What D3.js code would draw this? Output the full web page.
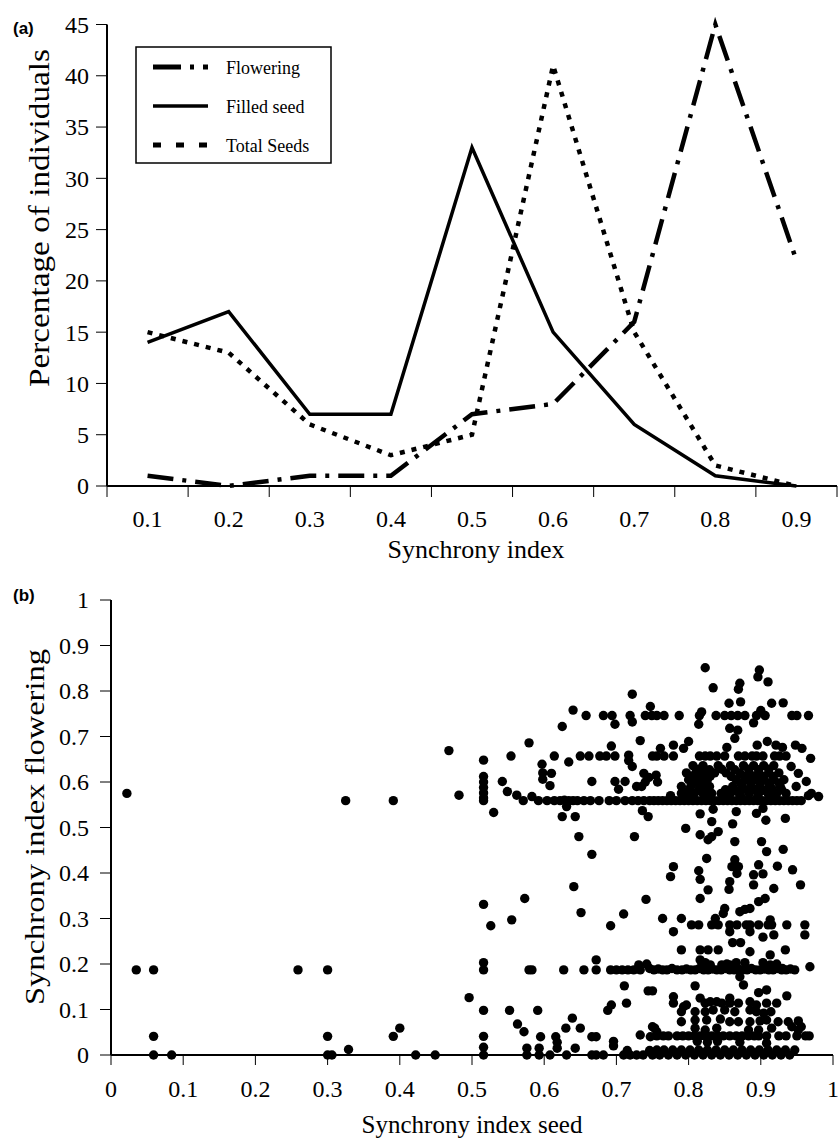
<!DOCTYPE html>
<html>
<head>
<meta charset="utf-8">
<script src="https://cdn.jsdelivr.net/npm/d3@7"></script>
<style>
  body { margin: 0; background: #fff; }
  svg { display: block; }
</style>
</head>
<body>
<svg id="chart" width="838" height="1139"></svg>
<script>
// ---- panel (a) data ----
const synchCats = ["0.1", "0.2", "0.3", "0.4", "0.5", "0.6", "0.7", "0.8", "0.9"]
const flowering = [1, 0, 1, 1, 7, 8, 16, 45, 22]
const filledSeed = [14, 17, 7, 7, 33, 15, 6, 1, 0]
const totalSeeds = [15, 13, 6, 3, 5, 41, 15, 2, 0]
const pctTicks = [0, 5, 10, 15, 20, 25, 30, 35, 40, 45]

// ---- panel (b) data: [synchrony seed, synchrony flowering] ----
const sparsePts = [
  [0.022,0.575],[0.035,0.187],[0.059,0.187],[0.059,0.041],[0.059,0],[0.084,0],
  [0.259,0.187],[0.300,0.187],[0.300,0.041],[0.300,0],[0.306,0],[0.329,0.012],
  [0.391,0.041],[0.400,0.059],[0.422,0],[0.449,0],[0.496,0.126],
  [0.325,0.559],[0.391,0.559],[0.468,0.669],[0.482,0.571],
  [0.516,0.648],[0.516,0.612],[0.516,0.600],[0.516,0.588],[0.516,0.576],[0.516,0.565],[0.516,0.331],
  [0.516,0.203],[0.516,0.187],[0.516,0.098],[0.516,0.041],[0.516,0.017],[0.516,0],
  [0.526,0.284],[0.530,0.533]
]
const upperPts = [
  [0.542,0.601],[0.549,0.579],[0.554,0.657],[0.562,0.571],[0.579,0.686],[0.597,0.639],[0.598,0.620],
  [0.598,0.606],[0.610,0.619],[0.608,0.592],[0.614,0.657],[0.625,0.722],[0.634,0.644],[0.640,0.758],
  [0.658,0.746],[0.682,0.746],[0.694,0.746],[0.698,0.727],[0.719,0.746],[0.722,0.732],[0.722,0.793],
  [0.740,0.746],[0.747,0.766],[0.650,0.657],[0.662,0.657],[0.677,0.657],[0.686,0.657],[0.698,0.657],
  [0.693,0.679],[0.717,0.659],[0.717,0.647],[0.722,0.634],[0.733,0.691],[0.738,0.619],[0.750,0.657],
  [0.666,0.601],[0.698,0.601],[0.703,0.584],[0.712,0.601],[0.728,0.590],[0.735,0.590],[0.740,0.600],
  [0.745,0.610],[0.631,0.546],[0.625,0.524],[0.643,0.524],[0.736,0.537],[0.744,0.524],[0.648,0.480],
  [0.725,0.480],[0.666,0.441],
  [0.823,0.851],[0.898,0.846],[0.896,0.831],[0.910,0.820],[0.834,0.807],[0.871,0.817],[0.869,0.804],
  [0.856,0.773],[0.872,0.776],[0.915,0.773],[0.931,0.774],
  [0.749,0.746],[0.756,0.746],[0.766,0.746],[0.787,0.746],[0.815,0.746],[0.838,0.746],[0.850,0.746],
  [0.859,0.746],[0.868,0.746],[0.878,0.746],[0.894,0.746],[0.906,0.746],[0.943,0.746],[0.950,0.746],
  [0.966,0.746],[0.818,0.754],[0.814,0.727],[0.890,0.730],[0.900,0.757],[0.857,0.718],[0.868,0.714],
  [0.864,0.696],[0.761,0.674],[0.779,0.681],[0.793,0.674],[0.800,0.689],[0.779,0.657],[0.853,0.676],
  [0.895,0.681],[0.909,0.689],[0.921,0.681],[0.930,0.676],[0.948,0.681],[0.957,0.674],[0.969,0.652],
  [0.942,0.634],[0.755,0.615],[0.757,0.600],[0.952,0.619],[0.963,0.601],[0.949,0.590],[0.970,0.575],
  [0.980,0.568],[0.966,0.570],[0.775,0.570],[0.790,0.575],
  [0.756,0.657],[0.766,0.657],[0.815,0.657],[0.823,0.657],[0.830,0.657],[0.839,0.657],[0.850,0.657],
  [0.869,0.657],[0.878,0.657],[0.888,0.657],[0.894,0.657],[0.903,0.657],[0.919,0.657],[0.926,0.657],
  [0.935,0.657]
]
// dense block just above the 0.56 row
const clusterPts = [
  [0.795,0.575],[0.808,0.575],[0.820,0.575],[0.832,0.575],[0.845,0.575],[0.858,0.575],[0.870,0.575],
  [0.884,0.575],[0.897,0.575],[0.910,0.575],[0.922,0.575],[0.935,0.575],
  [0.801,0.583],[0.814,0.582],[0.826,0.584],[0.851,0.583],[0.864,0.582],[0.877,0.584],[0.891,0.583],
  [0.904,0.582],[0.916,0.584],[0.929,0.583],
  [0.790,0.590],[0.803,0.590],[0.816,0.590],[0.829,0.590],[0.861,0.590],[0.874,0.590],[0.887,0.590],
  [0.899,0.590],[0.913,0.590],[0.927,0.590],
  [0.806,0.598],[0.820,0.597],[0.872,0.598],[0.886,0.597],[0.899,0.598],[0.911,0.597],[0.925,0.598],
  [0.800,0.605],[0.812,0.605],[0.826,0.605],[0.866,0.605],[0.880,0.605],[0.893,0.605],[0.905,0.605],
  [0.918,0.605],[0.932,0.605],
  [0.804,0.613],[0.817,0.612],[0.830,0.613],[0.859,0.612],[0.877,0.613],[0.890,0.612],[0.903,0.613],
  [0.917,0.612],
  [0.797,0.620],[0.810,0.620],[0.822,0.620],[0.836,0.620],[0.852,0.620],[0.871,0.620],[0.884,0.620],
  [0.897,0.620],[0.911,0.620],[0.925,0.620],
  [0.814,0.628],[0.829,0.627],[0.846,0.628],[0.864,0.627],[0.883,0.628],[0.897,0.627],[0.911,0.628],
  [0.806,0.636],[0.820,0.636],[0.841,0.636],[0.858,0.636],[0.876,0.636],[0.890,0.636],[0.904,0.636],
  [0.918,0.636]
]
const row056 = [
  [0.571,0.559],[0.583,0.568],[0.592,0.559],[0.604,0.559],[0.614,0.559],[0.622,0.559],[0.628,0.560],
  [0.634,0.559],[0.640,0.559],[0.646,0.559],[0.655,0.559],[0.664,0.559],[0.676,0.559],[0.690,0.559],
  [0.700,0.559],[0.712,0.559],[0.722,0.559],[0.730,0.559],[0.738,0.559],[0.746,0.559],[0.752,0.559],
  [0.758,0.559],[0.764,0.559],[0.770,0.559],[0.776,0.559],[0.782,0.559],[0.788,0.559],[0.794,0.559],
  [0.800,0.559],[0.806,0.559],[0.812,0.559],[0.818,0.559],[0.824,0.559],[0.830,0.559],[0.836,0.559],
  [0.842,0.559],[0.848,0.559],[0.854,0.559],[0.860,0.559],[0.866,0.559],[0.872,0.559],[0.878,0.559],
  [0.884,0.559],[0.890,0.559],[0.896,0.559],[0.902,0.559],[0.908,0.559],[0.914,0.559],[0.920,0.559],
  [0.926,0.559],[0.932,0.559],[0.938,0.559],[0.944,0.559],[0.950,0.559],[0.956,0.559],[0.516,0.559],
  [0.803,0.566],[0.827,0.567],[0.849,0.566],[0.873,0.567],[0.895,0.566],[0.918,0.567]
]
const lowerPts = [
  [0.816,0.530],[0.834,0.540],[0.832,0.513],[0.866,0.535],[0.894,0.531],[0.903,0.542],[0.907,0.516],
  [0.934,0.520],[0.796,0.498],[0.816,0.484],[0.827,0.473],[0.832,0.480],[0.841,0.491],[0.861,0.508],
  [0.864,0.469],[0.901,0.469],[0.908,0.447],[0.931,0.452],
  [0.555,0.297],[0.573,0.344],[0.641,0.370],[0.651,0.313],[0.692,0.284],[0.710,0.310],[0.741,0.342],
  [0.825,0.432],[0.779,0.414],[0.775,0.392],[0.814,0.405],[0.816,0.386],[0.864,0.429],[0.860,0.414],
  [0.869,0.414],[0.867,0.399],[0.857,0.381],[0.856,0.364],[0.897,0.418],[0.890,0.396],[0.903,0.398],
  [0.923,0.415],[0.944,0.407],[0.955,0.374],[0.918,0.366],[0.827,0.363],[0.816,0.344],[0.890,0.374],
  [0.897,0.337],[0.906,0.344],[0.850,0.322],[0.848,0.311],[0.837,0.300],[0.871,0.315],[0.878,0.320],
  [0.885,0.322],[0.764,0.300],[0.790,0.300],[0.779,0.271],
  [0.804,0.286],[0.814,0.286],[0.832,0.286],[0.841,0.286],[0.857,0.286],[0.867,0.286],[0.880,0.286],
  [0.885,0.286],[0.897,0.286],[0.910,0.286],[0.915,0.286],[0.936,0.286],[0.961,0.286],
  [0.961,0.264],[0.857,0.271],[0.885,0.271],[0.903,0.259],[0.918,0.264],[0.913,0.297],[0.861,0.247],
  [0.872,0.247],
  [0.790,0.231],[0.816,0.231],[0.827,0.231],[0.841,0.231],[0.885,0.227],[0.913,0.220],[0.934,0.231],
  [0.816,0.209],[0.823,0.203],[0.830,0.198],[0.846,0.198],[0.853,0.200],[0.857,0.198],[0.866,0.203],
  [0.878,0.203],[0.903,0.203],[0.913,0.198],[0.922,0.200],[0.930,0.190]
]
const row019 = [
  [0.579,0.187],[0.583,0.187],[0.627,0.187],[0.655,0.187],[0.672,0.209],[0.672,0.187],[0.692,0.187],
  [0.700,0.187],[0.708,0.187],[0.716,0.187],[0.724,0.187],[0.731,0.198],[0.733,0.187],[0.742,0.200],
  [0.746,0.190],[0.752,0.187],[0.758,0.189],[0.764,0.187],[0.770,0.187],[0.777,0.190],[0.784,0.187],
  [0.791,0.187],[0.797,0.189],[0.803,0.187],[0.809,0.187],[0.815,0.190],[0.821,0.187],[0.827,0.187],
  [0.833,0.189],[0.839,0.187],[0.845,0.187],[0.851,0.190],[0.857,0.187],[0.863,0.187],[0.869,0.189],
  [0.875,0.187],[0.881,0.187],[0.887,0.190],[0.893,0.187],[0.899,0.187],[0.905,0.189],[0.911,0.187],
  [0.917,0.187],[0.923,0.190],[0.929,0.187],[0.935,0.187],[0.941,0.189],[0.947,0.187],[0.968,0.194]
]
const bottomPts = [
  [0.871,0.172],[0.876,0.154],[0.809,0.152],[0.897,0.137],[0.908,0.143],[0.936,0.130],[0.779,0.128],
  [0.779,0.114],[0.711,0.152],[0.714,0.114],[0.744,0.141],[0.750,0.141],
  [0.793,0.106],[0.790,0.095],[0.797,0.110],[0.816,0.125],[0.823,0.114],[0.830,0.117],[0.839,0.117],
  [0.846,0.114],[0.857,0.125],[0.857,0.114],[0.869,0.114],[0.885,0.117],[0.894,0.110],[0.908,0.114],
  [0.922,0.114],[0.809,0.095],[0.823,0.095],[0.834,0.099],[0.850,0.099],[0.864,0.095],[0.885,0.099],
  [0.894,0.095],[0.904,0.092],[0.914,0.095],
  [0.790,0.073],[0.809,0.077],[0.825,0.077],[0.844,0.079],[0.857,0.073],[0.869,0.073],[0.885,0.073],
  [0.899,0.075],[0.908,0.077],[0.924,0.073],[0.938,0.073],[0.952,0.075],[0.753,0.059],[0.756,0.051],
  [0.809,0.059],[0.823,0.055],[0.839,0.059],[0.883,0.055],[0.897,0.055],[0.915,0.059],[0.943,0.062],
  [0.956,0.062],[0.952,0.055],
  [0.552,0.098],[0.591,0.098],[0.563,0.068],[0.572,0.051],[0.595,0.040],[0.616,0.040],[0.630,0.059],
  [0.639,0.081],[0.650,0.059],[0.666,0.040],[0.672,0.040],[0.688,0.098],[0.693,0.110],
  [0.733,0.044],[0.747,0.040],[0.750,0.062],
  [0.756,0.042],[0.765,0.042],[0.772,0.042],[0.784,0.042],[0.792,0.042],[0.800,0.042],[0.808,0.042],
  [0.816,0.042],[0.824,0.042],[0.832,0.042],[0.840,0.042],[0.848,0.042],[0.857,0.042],[0.866,0.042],
  [0.874,0.042],[0.883,0.042],[0.891,0.042],[0.897,0.042],[0.908,0.042],[0.925,0.042],[0.935,0.042],
  [0.950,0.042],[0.962,0.042],[0.967,0.042],
  [0.812,0.030],[0.826,0.028],[0.840,0.030],[0.871,0.028],[0.908,0.026]
]
const rowZero = [
  [0.576,0.015],[0.576,0],[0.593,0.015],[0.593,0],[0.608,0],[0.618,0.015],[0.618,0.028],[0.631,0],
  [0.643,0.015],[0.666,0],[0.672,0],[0.682,0],[0.696,0.020],[0.696,0.030],[0.710,0],[0.715,0.010],
  [0.719,0],[0.728,0],[0.737,0],[0.746,0.010],[0.750,0],
  [0.756,0.011],[0.760,0],[0.766,0.011],[0.772,0],[0.778,0.011],[0.784,0],[0.790,0.011],[0.796,0],
  [0.802,0.011],[0.808,0],[0.814,0.011],[0.820,0],[0.826,0.011],[0.832,0],[0.838,0.011],[0.844,0],
  [0.850,0.011],[0.856,0],[0.862,0.011],[0.868,0],[0.874,0.011],[0.880,0],[0.886,0.011],[0.892,0],
  [0.898,0.011],[0.904,0],[0.910,0.011],[0.916,0],[0.922,0.011],[0.928,0],[0.934,0.011],[0.940,0],
  [0.947,0.011]
]
const seedTicks = [0, 0.1, 0.2, 0.3, 0.4, 0.5, 0.6, 0.7, 0.8, 0.9, 1]
const flowerTicks = [0, 0.1, 0.2, 0.3, 0.4, 0.5, 0.6, 0.7, 0.8, 0.9, 1]

const serif = "'Liberation Serif', 'Times New Roman', Times, serif"
const sans = "'Liberation Sans', Arial, Helvetica, sans-serif"

const svg = d3.select("#chart")

// ================= panel (a) =================
const xa = d3.scaleBand().domain(synchCats).range([107, 837])
const ya = d3.scaleLinear().domain([0, 45]).range([486, 24.5])
const ga = svg.append("g").style("font-family", serif)

// axes
ga.append("line").attr("x1", xa.range()[0]).attr("x2", xa.range()[1])
  .attr("y1", ya(0)).attr("y2", ya(0)).attr("stroke", "#000").attr("stroke-width", 2)
ga.append("line").attr("x1", xa.range()[0]).attr("x2", xa.range()[0])
  .attr("y1", ya(45)).attr("y2", ya(0)).attr("stroke", "#000").attr("stroke-width", 2)

const bounds = synchCats.map(c => xa(c)).concat([xa.range()[1]])
ga.selectAll(".xtick").data(bounds).join("line")
  .attr("x1", d => d).attr("x2", d => d).attr("y1", ya(0)).attr("y2", ya(0) + 11)
  .attr("stroke", "#000").attr("stroke-width", 1)
ga.selectAll(".xlab").data(synchCats).join("text")
  .attr("x", d => xa(d) + xa.bandwidth() / 2).attr("y", 527)
  .attr("text-anchor", "middle").attr("font-size", 24).text(d => d)

ga.selectAll(".ytick").data(pctTicks).join("line")
  .attr("x1", 96).attr("x2", 107).attr("y1", d => ya(d)).attr("y2", d => ya(d))
  .attr("stroke", "#000").attr("stroke-width", 1)
ga.selectAll(".ylab").data(pctTicks).join("text")
  .attr("x", 89).attr("y", d => ya(d)).attr("dy", "0.35em")
  .attr("text-anchor", "end").attr("font-size", 24).text(d => d)

ga.append("text").attr("x", 476).attr("y", 558).attr("text-anchor", "middle")
  .attr("font-size", 26).text("Synchrony index")
ga.append("text").attr("transform", "translate(49,218) rotate(-90)").attr("text-anchor", "middle")
  .attr("font-size", 29).attr("textLength", 338).attr("lengthAdjust", "spacingAndGlyphs")
  .text("Percentage of individuals")
svg.append("text").attr("x", 13).attr("y", 34).style("font-family", sans)
  .attr("font-weight", "bold").attr("font-size", 17).text("(a)")

// lines
const series = [
  { name: "Flowering", values: flowering, dash: "26,9,4,9", width: 4.5 },
  { name: "Filled seed", values: filledSeed, dash: null, width: 3.5 },
  { name: "Total Seeds", values: totalSeeds, dash: "5,7", width: 4.5 }
]
const line = d3.line()
  .x((d, i) => xa(synchCats[i]) + xa.bandwidth() / 2)
  .y(d => ya(d))
ga.selectAll(".series").data(series).join("path")
  .attr("d", d => line(d.values)).attr("fill", "none").attr("stroke", "#000")
  .attr("stroke-width", d => d.width).attr("stroke-dasharray", d => d.dash)
  .attr("stroke-linejoin", "miter")

// legend
const lg = ga.append("g")
lg.append("rect").attr("x", 136).attr("y", 47).attr("width", 195).attr("height", 116)
  .attr("fill", "#fff").attr("stroke", "#000").attr("stroke-width", 1.5)
const legendDash = ["28,9,4,9", null, "8,15"]
series.forEach((s, i) => {
  const yy = 67 + i * 39
  lg.append("line").attr("x1", 153).attr("x2", 208).attr("y1", yy).attr("y2", yy)
    .attr("stroke", "#000").attr("stroke-width", i === 1 ? 3.5 : 5)
    .attr("stroke-dasharray", legendDash[i])
  lg.append("text").attr("x", 226).attr("y", yy + 7).attr("font-size", 18).text(s.name)
})

// ================= panel (b) =================
const xb = d3.scaleLinear().domain([0, 1]).range([111, 833])
const yb = d3.scaleLinear().domain([0, 1]).range([1055, 600])
const gb = svg.append("g").style("font-family", serif)

gb.append("line").attr("x1", xb(0)).attr("x2", xb(1)).attr("y1", yb(0)).attr("y2", yb(0))
  .attr("stroke", "#000").attr("stroke-width", 2)
gb.append("line").attr("x1", xb(0)).attr("x2", xb(0)).attr("y1", yb(1)).attr("y2", yb(0))
  .attr("stroke", "#000").attr("stroke-width", 2)
gb.selectAll(".xtick").data(seedTicks).join("line")
  .attr("x1", d => xb(d)).attr("x2", d => xb(d)).attr("y1", yb(0)).attr("y2", yb(0) + 10)
  .attr("stroke", "#000").attr("stroke-width", 1)
gb.selectAll(".xlab").data(seedTicks).join("text")
  .attr("x", d => xb(d)).attr("y", 1097).attr("text-anchor", "middle").attr("font-size", 24)
  .text(d => d)
gb.selectAll(".ytick").data(flowerTicks).join("line")
  .attr("x1", 100).attr("x2", xb(0)).attr("y1", d => yb(d)).attr("y2", d => yb(d))
  .attr("stroke", "#000").attr("stroke-width", 1)
gb.selectAll(".ylab").data(flowerTicks).join("text")
  .attr("x", 89).attr("y", d => yb(d)).attr("dy", "0.35em").attr("text-anchor", "end")
  .attr("font-size", 24).text(d => d)

gb.append("text").attr("x", 472).attr("y", 1133).attr("text-anchor", "middle")
  .attr("font-size", 25).text("Synchrony index seed")
gb.append("text").attr("transform", "translate(44,827) rotate(-90)").attr("text-anchor", "middle")
  .attr("font-size", 28).attr("textLength", 356).attr("lengthAdjust", "spacingAndGlyphs")
  .text("Synchrony index flowering")
svg.append("text").attr("x", 13).attr("y", 601).style("font-family", sans)
  .attr("font-weight", "bold").attr("font-size", 17).text("(b)")

const allPts = [].concat(sparsePts, upperPts, clusterPts, row056, lowerPts, row019, bottomPts, rowZero)
gb.selectAll("circle").data(allPts).join("circle")
  .attr("cx", d => xb(d[0])).attr("cy", d => yb(d[1])).attr("r", 4.7).attr("fill", "#000")
</script>
</body>
</html>
